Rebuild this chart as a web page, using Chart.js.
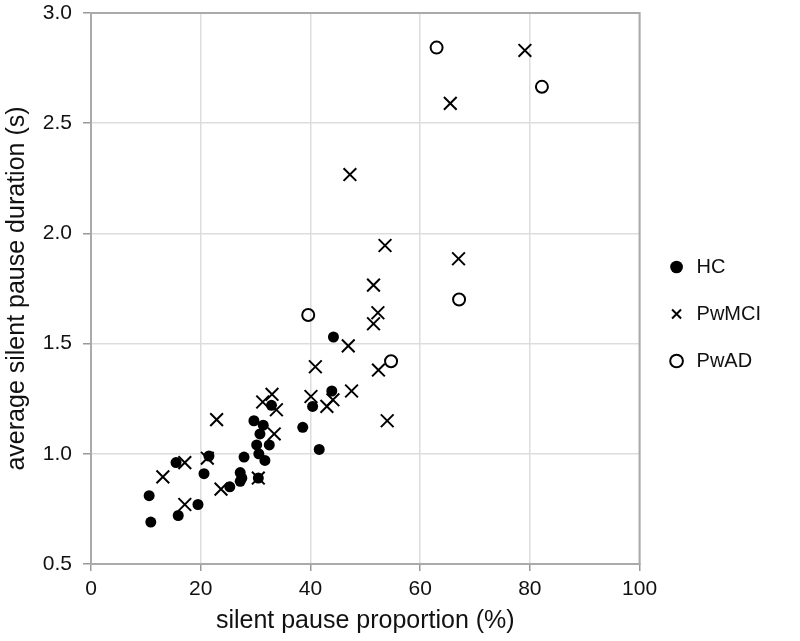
<!DOCTYPE html>
<html>
<head>
<meta charset="utf-8">
<script src="https://cdn.jsdelivr.net/npm/chart.js@4"></script>
<style>
  html, body { margin: 0; padding: 0; background: #fff; }
  #wrap { width: 800px; height: 641px; }
</style>
</head>
<body>
<div id="wrap"><canvas id="scatter-chart"></canvas></div>
<script>
// silent pause proportion (%) / average silent pause duration (s)
var hcX = [10.6, 10.9, 15.5, 15.9, 19.5, 20.6, 21.5, 25.3, 27.2, 27.5, 27.2, 27.9, 29.7, 31.4, 30.8, 30.2, 32.5, 30.6, 31.7, 30.5, 32.9, 44.2, 43.9, 40.4, 38.6, 41.6]
var hcY = [0.81, 0.69, 0.96, 0.72, 0.77, 0.91, 0.99, 0.85, 0.915, 0.89, 0.875, 0.985, 1.15, 1.13, 1.09, 1.04, 1.04, 1.0, 0.97, 0.89, 1.22, 1.53, 1.285, 1.215, 1.12, 1.02]

var mciX = [13.1, 17.1, 17.1, 22.9, 21.2, 23.7, 30.5, 31.3, 33.0, 33.8, 33.4, 51.5, 52.3, 51.5, 46.9, 40.9, 52.4, 40.1, 47.5, 44.1, 43.0, 54.0, 53.6, 67.0, 65.5, 79.1, 47.2]
var mciY = [0.895, 0.96, 0.77, 1.155, 0.98, 0.84, 0.89, 1.235, 1.27, 1.2, 1.09, 1.765, 1.64, 1.59, 1.49, 1.395, 1.38, 1.26, 1.285, 1.245, 1.215, 1.15, 1.945, 1.885, 2.59, 2.83, 2.267]

var adX = [39.6, 54.7, 63.0, 82.2, 67.1]
var adY = [1.63, 1.42, 2.843, 2.665, 1.70]

var xTicks = [0, 20, 40, 60, 80, 100]
var yTicks = [0.5, 1.0, 1.5, 2.0, 2.5, 3.0]

function toPoints(xs, ys) {
    return xs.map(function (x, i) { return { x: x, y: ys[i] } })
}

Chart.defaults.font.family = '"Liberation Sans", Arial, sans-serif'
Chart.defaults.color = '#111'

// grey frame round the plot area
var frame = {
    id: 'frame',
    afterLayout: function (chart) {
        // legend sits a little above the middle in the original
        if (chart.legend) chart.legend.bottom -= 26
    },
    beforeDatasetsDraw: function (chart) {
        var a = chart.chartArea, c = chart.ctx
        c.save()
        c.strokeStyle = '#aaa'
        c.lineWidth = 2
        c.strokeRect(a.left, a.top, a.right - a.left, a.bottom - a.top)
        c.restore()
    }
}

var ctx = document.getElementById('scatter-chart').getContext('2d')
var chart = new Chart(ctx, {
    type: 'scatter',
    data: {
        datasets: [
        {
            label: 'HC',
            data: toPoints(hcX, hcY),
            pointStyle: 'circle',
            pointRadius: 5.5,
            backgroundColor: '#000',
            borderColor: '#000',
            borderWidth: 0
        },
        {
            label: 'PwMCI',
            data: toPoints(mciX, mciY),
            pointStyle: 'crossRot',
            pointRadius: 9,
            backgroundColor: '#000',
            borderColor: '#000',
            borderWidth: 2
        },
        {
            label: 'PwAD',
            data: toPoints(adX, adY),
            pointStyle: 'circle',
            pointRadius: 6,
            backgroundColor: 'rgba(255,255,255,0)',
            borderColor: '#000',
            borderWidth: 2
        }]
    },
    plugins: [frame],
    options: {
        responsive: true,
        maintainAspectRatio: false,
        animation: false,
        layout: { padding: { left: 0, right: 29, top: 13, bottom: 0 } },
        plugins: {
            tooltip: { enabled: false },
            legend: {
                display: true,
                position: 'right',
                labels: {
                    usePointStyle: true,
                    boxHeight: 9,
                    padding: 27,
                    color: '#111',
                    font: { size: 20 }
                }
            }
        },
        scales: {
            x: {
                type: 'linear',
                min: 0,
                max: 100,
                afterFit: function (s) {
                    s.height = 77
                    s.paddingLeft = 0
                    s.paddingRight = 0
                },
                afterBuildTicks: function (s) { s.ticks = xTicks.map(function (v) { return { value: v } }) },
                title: {
                    display: true,
                    text: 'silent pause proportion (%)',
                    font: { size: 25 },
                    color: '#111',
                    padding: { top: 0, bottom: 5 }
                },
                ticks: { font: { size: 21 }, color: '#111', padding: 6 },
                grid: { color: '#ddd', lineWidth: 1.5, tickColor: '#999', tickLength: 7 },
                border: { color: '#999', width: 2 }
            },
            y: {
                type: 'linear',
                min: 0.5,
                max: 3.0,
                afterFit: function (s) {
                    s.width = 91
                    s.paddingTop = 0
                    s.paddingBottom = 0
                },
                afterBuildTicks: function (s) { s.ticks = yTicks.map(function (v) { return { value: v } }) },
                title: {
                    display: true,
                    text: 'average silent pause duration (s)',
                    font: { size: 25 },
                    color: '#111',
                    padding: { top: 2, bottom: 0 }
                },
                ticks: {
                    font: { size: 21 },
                    color: '#111',
                    padding: 11,
                    callback: function (v) { return v.toFixed(1) }
                },
                grid: { color: '#ddd', lineWidth: 1.5, tickColor: '#999', tickLength: 8 },
                border: { color: '#999', width: 2 }
            }
        }
    }
})
</script>
</body>
</html>
